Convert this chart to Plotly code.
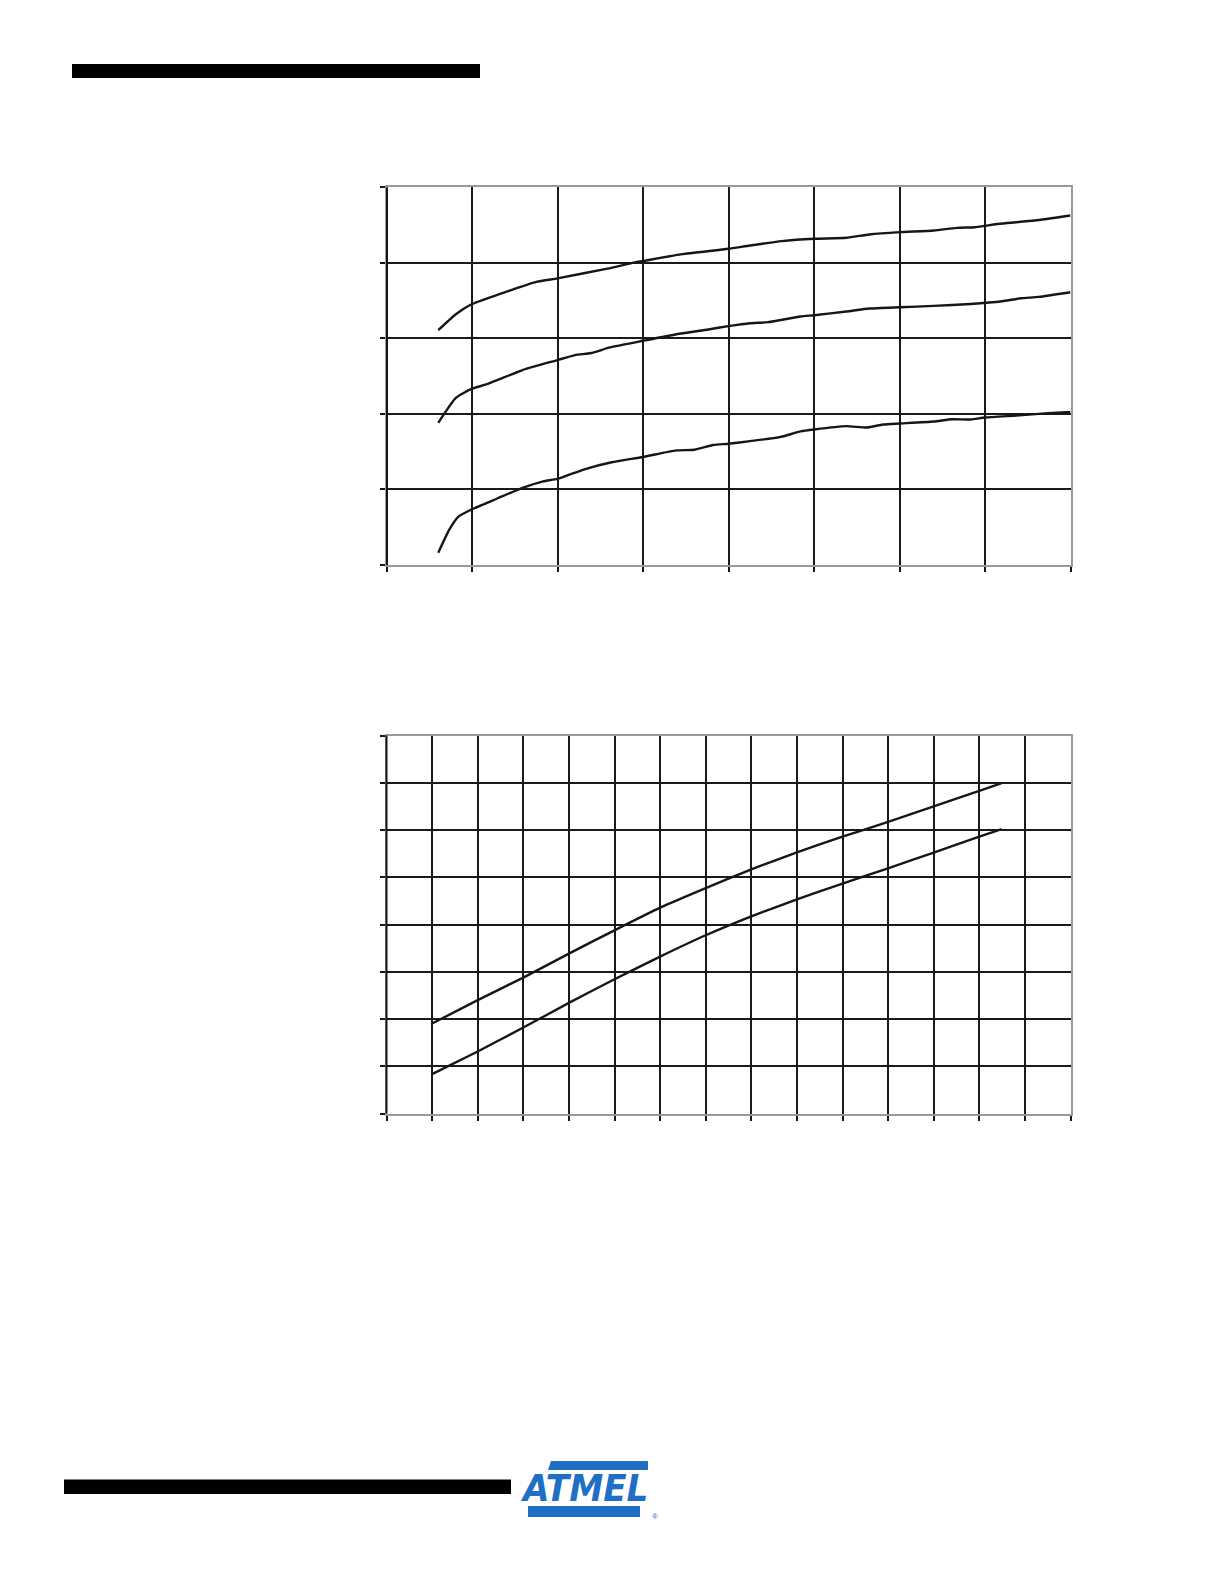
import plotly.graph_objects as go

W, H = 1224, 1584

# ---------- Chart 1 data (three curves, 8 x-divisions, 5 y-divisions) ----------
c1_x_top = [0.60, 0.806, 0.989, 1.29, 1.747, 1.995, 2.58, 2.90, 2.995, 3.44, 3.995, 4.25, 4.62, 5.0,
            5.376, 5.645, 6.0, 6.40, 6.667, 6.88, 7.0, 7.20, 7.58, 8.0]
c1_y_top = [3.109, 3.32, 3.452, 3.575, 3.747, 3.795, 3.923, 4.006, 4.024, 4.112, 4.186, 4.23, 4.287, 4.318,
            4.332, 4.376, 4.406, 4.428, 4.463, 4.472, 4.49, 4.52, 4.56, 4.626]

c1_x_mid = [0.60, 0.806, 0.989, 1.18, 1.586, 1.995, 2.20, 2.39, 2.61, 2.995, 3.44, 3.76, 3.995, 4.25,
            4.46, 4.84, 5.0, 5.376, 5.645, 6.0, 6.40, 6.83, 7.20, 7.42, 7.63, 8.0]
c1_y_mid = [1.882, 2.212, 2.331, 2.397, 2.581, 2.713, 2.779, 2.806, 2.88, 2.968, 3.065, 3.118, 3.162, 3.201,
            3.215, 3.29, 3.307, 3.355, 3.395, 3.412, 3.43, 3.456, 3.492, 3.531, 3.549, 3.61]

c1_x_low = [0.60, 0.726, 0.833, 0.989, 1.29, 1.586, 1.828, 1.995, 2.31, 2.63, 2.995, 3.387, 3.60, 3.817,
            3.995, 4.25, 4.597, 4.84, 5.0, 5.376, 5.618, 5.806, 6.0, 6.40, 6.613, 6.83, 7.0, 7.366, 7.74, 8.0]
c1_y_low = [0.163, 0.462, 0.638, 0.735, 0.88, 1.021, 1.108, 1.139, 1.267, 1.36, 1.43, 1.517, 1.526, 1.588,
            1.605, 1.64, 1.693, 1.768, 1.794, 1.838, 1.82, 1.86, 1.873, 1.9, 1.93, 1.926, 1.952, 1.979, 2.01, 2.027]

# ---------- Chart 2 data (two curves, 15 x-divisions, 8 y-divisions) ----------
c2_x = [1.0, 2.0, 3.0, 4.0, 5.0, 6.0, 7.0, 8.0, 9.0, 10.0, 11.0, 12.0, 13.0, 13.49]
c2_y_up = [1.904, 2.398, 2.877, 3.384, 3.877, 4.357, 4.772, 5.167, 5.527, 5.858, 6.17, 6.50, 6.83, 6.99]
c2_y_lo = [0.833, 1.312, 1.82, 2.341, 2.841, 3.321, 3.772, 4.173, 4.533, 4.864, 5.19, 5.52, 5.86, 6.02]

LINE = "#161616"
GRID = "#1a1a1a"
BORDER = "#9a9a9a"

fig = go.Figure()

def px_dom_x(a, b):
    return [a / W, b / W]

def px_dom_y(top, bottom):
    return [1 - bottom / H, 1 - top / H]

for xs, ys in [(c1_x_top, c1_y_top), (c1_x_mid, c1_y_mid), (c1_x_low, c1_y_low)]:
    fig.add_trace(go.Scatter(x=xs, y=ys, mode="lines", xaxis="x", yaxis="y",
                             line=dict(color=LINE, width=2.4, shape="spline", smoothing=0.5),
                             showlegend=False, hoverinfo="skip"))
for ys in [c2_y_up, c2_y_lo]:
    fig.add_trace(go.Scatter(x=c2_x, y=ys, mode="lines", xaxis="x2", yaxis="y2",
                             line=dict(color=LINE, width=2.4, shape="spline", smoothing=0.4),
                             showlegend=False, hoverinfo="skip"))

common = dict(showgrid=True, gridcolor=GRID, zeroline=False, showticklabels=False,
              ticks="outside", ticklen=5, tickcolor=LINE, tickwidth=1.5,
              showline=True, linecolor=BORDER, linewidth=2, mirror=True, fixedrange=True)

c1_left, c1_right, c1_top, c1_bot = 387, 1070.5, 187.3, 565
c2_left, c2_right, c2_top, c2_bot = 386.5, 1070.5, 735.5, 1113.5

fig.update_layout(
    width=W, height=H, margin=dict(l=0, r=0, t=0, b=0),
    paper_bgcolor="white", plot_bgcolor="white", showlegend=False,
    xaxis=dict(domain=px_dom_x(c1_left, c1_right), range=[0, 8], dtick=1, tick0=0,
               gridwidth=2, anchor="y", **common),
    yaxis=dict(domain=px_dom_y(c1_top, c1_bot), range=[0, 5], dtick=1, tick0=0,
               gridwidth=2.2, anchor="x", **common),
    xaxis2=dict(domain=px_dom_x(c2_left, c2_right), range=[0, 15], dtick=1, tick0=0,
                gridwidth=2.2, anchor="y2", **common),
    yaxis2=dict(domain=px_dom_y(c2_top, c2_bot), range=[0, 8], dtick=1, tick0=0,
                gridwidth=2.2, anchor="x2", **common),
)

shapes = []
# dark left axis lines
for l, t, b in [(c1_left, c1_top, c1_bot), (c2_left, c2_top, c2_bot)]:
    shapes.append(dict(type="line", xref="paper", yref="paper",
                       x0=l / W, x1=l / W, y0=1 - b / H, y1=1 - t / H,
                       line=dict(color=LINE, width=2)))
# page header / footer bars
shapes.append(dict(type="rect", xref="paper", yref="paper", x0=72 / W, x1=480 / W,
                   y0=1 - 78 / H, y1=1 - 64 / H, fillcolor="black", line=dict(width=0)))
shapes.append(dict(type="rect", xref="paper", yref="paper", x0=64 / W, x1=511 / W,
                   y0=1 - 1494 / H, y1=1 - 1479.5 / H, fillcolor="black", line=dict(width=0)))
# logo bands
BLUE = "#1f6fc5"
def pth(pts):
    s = "M " + " L ".join(f"{x / W:.5f},{1 - y / H:.5f}" for x, y in pts) + " Z"
    return s
shapes.append(dict(type="path", xref="paper", yref="paper",
                   path=pth([(551, 1461), (648, 1461), (648, 1470), (548, 1470)]),
                   fillcolor=BLUE, line=dict(width=0)))
shapes.append(dict(type="path", xref="paper", yref="paper",
                   path=pth([(528, 1506), (640, 1506), (640, 1517), (528, 1517)]),
                   fillcolor=BLUE, line=dict(width=0)))
fig.update_layout(shapes=shapes)

fig.add_annotation(xref="paper", yref="paper", x=584 / W, y=1 - 1488 / H,
                   text="<b><i>ATMEL</i></b>", showarrow=False, xanchor="center", yanchor="middle",
                   font=dict(family="Liberation Sans Narrow, DejaVu Sans Condensed, Liberation Sans",
                             size=38, color=BLUE))
fig.add_annotation(xref="paper", yref="paper", x=655 / W, y=1 - 1516 / H,
                   text="®", showarrow=False, xanchor="center", yanchor="middle",
                   font=dict(family="Liberation Sans", size=8, color=BLUE))

fig.write_html("out.html", post_script="document.body.style.margin='0';",
               config={"displayModeBar": False})
